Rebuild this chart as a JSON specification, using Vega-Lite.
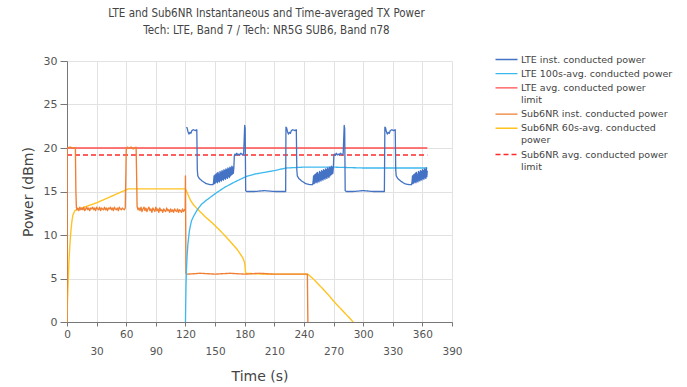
{
  "$schema": "https://vega.github.io/schema/vega-lite/v6.json",
  "width": 385,
  "height": 261,
  "autosize": {"type": "none"},
  "padding": {"left": 67, "top": 61, "right": 235, "bottom": 65},
  "background": "white",
  "config": {
    "font": "DejaVu Sans",
    "view": {"stroke": null},
    "legend": {
      "orient": "none",
      "legendX": 433,
      "legendY": -8,
      "symbolType": "M-2,0L2,0",
      "symbolSize": 121,
      "symbolStrokeWidth": 1.6,
      "labelFontSize": 9.5,
      "labelColor": "#444",
      "labelOffset": 8,
      "labelLimit": 300,
      "rowPadding": 3.2,
      "title": null
    }
  },
  "title": {
    "text": ["LTE and Sub6NR Instantaneous and Time-averaged TX Power", "Tech: LTE, Band 7 / Tech: NR5G SUB6, Band n78"],
    "font": "DejaVu Sans Condensed",
    "fontSize": 11.5,
    "fontWeight": "normal",
    "color": "#444",
    "anchor": "middle",
    "offset": 17,
    "lineHeight": 17,
    "dx": 7
  },
  "data": {"values": [
    {"series": "LTE avg. conducted power limit", "t": 0, "v": 20},
    {"series": "LTE avg. conducted power limit", "t": 365, "v": 20},
    {"series": "Sub6NR avg. conducted power limit", "t": 0, "v": 19.2},
    {"series": "Sub6NR avg. conducted power limit", "t": 365, "v": 19.2},

    {"series": "Sub6NR 60s-avg. conducted power", "t": 0, "v": 0},
    {"series": "Sub6NR 60s-avg. conducted power", "t": 0.5, "v": 2.5},
    {"series": "Sub6NR 60s-avg. conducted power", "t": 1, "v": 4},
    {"series": "Sub6NR 60s-avg. conducted power", "t": 1.5, "v": 5.5},
    {"series": "Sub6NR 60s-avg. conducted power", "t": 2, "v": 7},
    {"series": "Sub6NR 60s-avg. conducted power", "t": 3, "v": 9},
    {"series": "Sub6NR 60s-avg. conducted power", "t": 4, "v": 10.5},
    {"series": "Sub6NR 60s-avg. conducted power", "t": 5, "v": 11.6},
    {"series": "Sub6NR 60s-avg. conducted power", "t": 6, "v": 12.3},
    {"series": "Sub6NR 60s-avg. conducted power", "t": 8, "v": 12.8},
    {"series": "Sub6NR 60s-avg. conducted power", "t": 10, "v": 12.9},
    {"series": "Sub6NR 60s-avg. conducted power", "t": 20, "v": 13.3},
    {"series": "Sub6NR 60s-avg. conducted power", "t": 30, "v": 13.7},
    {"series": "Sub6NR 60s-avg. conducted power", "t": 40, "v": 14.2},
    {"series": "Sub6NR 60s-avg. conducted power", "t": 50, "v": 14.7},
    {"series": "Sub6NR 60s-avg. conducted power", "t": 58, "v": 15.1},
    {"series": "Sub6NR 60s-avg. conducted power", "t": 62, "v": 15.3},
    {"series": "Sub6NR 60s-avg. conducted power", "t": 90, "v": 15.3},
    {"series": "Sub6NR 60s-avg. conducted power", "t": 120, "v": 15.3},
    {"series": "Sub6NR 60s-avg. conducted power", "t": 122, "v": 14.8},
    {"series": "Sub6NR 60s-avg. conducted power", "t": 125, "v": 14.0},
    {"series": "Sub6NR 60s-avg. conducted power", "t": 128, "v": 13.5},
    {"series": "Sub6NR 60s-avg. conducted power", "t": 132, "v": 13.0},
    {"series": "Sub6NR 60s-avg. conducted power", "t": 140, "v": 12.1},
    {"series": "Sub6NR 60s-avg. conducted power", "t": 148, "v": 11.3},
    {"series": "Sub6NR 60s-avg. conducted power", "t": 156, "v": 10.4},
    {"series": "Sub6NR 60s-avg. conducted power", "t": 165, "v": 9.3},
    {"series": "Sub6NR 60s-avg. conducted power", "t": 172, "v": 8.4},
    {"series": "Sub6NR 60s-avg. conducted power", "t": 178, "v": 7.4},
    {"series": "Sub6NR 60s-avg. conducted power", "t": 180, "v": 6.8},
    {"series": "Sub6NR 60s-avg. conducted power", "t": 181, "v": 5.6},
    {"series": "Sub6NR 60s-avg. conducted power", "t": 200, "v": 5.5},
    {"series": "Sub6NR 60s-avg. conducted power", "t": 244, "v": 5.5},
    {"series": "Sub6NR 60s-avg. conducted power", "t": 245, "v": 5.4},
    {"series": "Sub6NR 60s-avg. conducted power", "t": 250, "v": 4.9},
    {"series": "Sub6NR 60s-avg. conducted power", "t": 255, "v": 4.3},
    {"series": "Sub6NR 60s-avg. conducted power", "t": 260, "v": 3.7},
    {"series": "Sub6NR 60s-avg. conducted power", "t": 265, "v": 3.1},
    {"series": "Sub6NR 60s-avg. conducted power", "t": 270, "v": 2.4},
    {"series": "Sub6NR 60s-avg. conducted power", "t": 275, "v": 1.8},
    {"series": "Sub6NR 60s-avg. conducted power", "t": 280, "v": 1.2},
    {"series": "Sub6NR 60s-avg. conducted power", "t": 285, "v": 0.6},
    {"series": "Sub6NR 60s-avg. conducted power", "t": 290, "v": 0},

    {"series": "Sub6NR inst. conducted power", "t": 0, "v": 0},
    {"series": "Sub6NR inst. conducted power", "t": 0.2, "v": 20},
    {"series": "Sub6NR inst. conducted power", "t": 3, "v": 20.1},
    {"series": "Sub6NR inst. conducted power", "t": 6, "v": 20},
    {"series": "Sub6NR inst. conducted power", "t": 8.5, "v": 20},
    {"series": "Sub6NR inst. conducted power", "t": 9, "v": 15},
    {"series": "Sub6NR inst. conducted power", "t": 9.5, "v": 13.2},
    {"series": "Sub6NR inst. conducted power", "t": 10, "v": 12.9},
    {"series": "Sub6NR inst. conducted power", "t": 11, "v": 13.1},
    {"series": "Sub6NR inst. conducted power", "t": 12, "v": 12.8},
    {"series": "Sub6NR inst. conducted power", "t": 13, "v": 13.2},
    {"series": "Sub6NR inst. conducted power", "t": 14, "v": 12.9},
    {"series": "Sub6NR inst. conducted power", "t": 15, "v": 13.1},
    {"series": "Sub6NR inst. conducted power", "t": 16, "v": 12.9},
    {"series": "Sub6NR inst. conducted power", "t": 17, "v": 13.2},
    {"series": "Sub6NR inst. conducted power", "t": 18, "v": 12.8},
    {"series": "Sub6NR inst. conducted power", "t": 19, "v": 13.0},
    {"series": "Sub6NR inst. conducted power", "t": 20, "v": 13.2},
    {"series": "Sub6NR inst. conducted power", "t": 21, "v": 12.9},
    {"series": "Sub6NR inst. conducted power", "t": 22, "v": 13.1},
    {"series": "Sub6NR inst. conducted power", "t": 23, "v": 12.8},
    {"series": "Sub6NR inst. conducted power", "t": 24, "v": 13.1},
    {"series": "Sub6NR inst. conducted power", "t": 25, "v": 13.0},
    {"series": "Sub6NR inst. conducted power", "t": 26, "v": 13.2},
    {"series": "Sub6NR inst. conducted power", "t": 27, "v": 12.9},
    {"series": "Sub6NR inst. conducted power", "t": 28, "v": 13.1},
    {"series": "Sub6NR inst. conducted power", "t": 29, "v": 12.8},
    {"series": "Sub6NR inst. conducted power", "t": 30, "v": 13.2},
    {"series": "Sub6NR inst. conducted power", "t": 31, "v": 13.0},
    {"series": "Sub6NR inst. conducted power", "t": 32, "v": 12.9},
    {"series": "Sub6NR inst. conducted power", "t": 33, "v": 13.2},
    {"series": "Sub6NR inst. conducted power", "t": 34, "v": 12.8},
    {"series": "Sub6NR inst. conducted power", "t": 35, "v": 13.1},
    {"series": "Sub6NR inst. conducted power", "t": 36, "v": 13.0},
    {"series": "Sub6NR inst. conducted power", "t": 37, "v": 12.9},
    {"series": "Sub6NR inst. conducted power", "t": 38, "v": 13.2},
    {"series": "Sub6NR inst. conducted power", "t": 39, "v": 12.9},
    {"series": "Sub6NR inst. conducted power", "t": 40, "v": 13.1},
    {"series": "Sub6NR inst. conducted power", "t": 41, "v": 12.8},
    {"series": "Sub6NR inst. conducted power", "t": 42, "v": 13.1},
    {"series": "Sub6NR inst. conducted power", "t": 43, "v": 13.0},
    {"series": "Sub6NR inst. conducted power", "t": 44, "v": 13.2},
    {"series": "Sub6NR inst. conducted power", "t": 45, "v": 12.9},
    {"series": "Sub6NR inst. conducted power", "t": 46, "v": 13.1},
    {"series": "Sub6NR inst. conducted power", "t": 47, "v": 12.8},
    {"series": "Sub6NR inst. conducted power", "t": 48, "v": 13.2},
    {"series": "Sub6NR inst. conducted power", "t": 49, "v": 13.0},
    {"series": "Sub6NR inst. conducted power", "t": 50, "v": 12.9},
    {"series": "Sub6NR inst. conducted power", "t": 51, "v": 13.1},
    {"series": "Sub6NR inst. conducted power", "t": 52, "v": 12.8},
    {"series": "Sub6NR inst. conducted power", "t": 53, "v": 13.2},
    {"series": "Sub6NR inst. conducted power", "t": 54, "v": 13.0},
    {"series": "Sub6NR inst. conducted power", "t": 55, "v": 12.9},
    {"series": "Sub6NR inst. conducted power", "t": 56, "v": 13.1},
    {"series": "Sub6NR inst. conducted power", "t": 57, "v": 13.0},
    {"series": "Sub6NR inst. conducted power", "t": 58, "v": 12.9},
    {"series": "Sub6NR inst. conducted power", "t": 59, "v": 13.1},
    {"series": "Sub6NR inst. conducted power", "t": 59.5, "v": 16},
    {"series": "Sub6NR inst. conducted power", "t": 60, "v": 19.8},
    {"series": "Sub6NR inst. conducted power", "t": 61, "v": 20.1},
    {"series": "Sub6NR inst. conducted power", "t": 63, "v": 20},
    {"series": "Sub6NR inst. conducted power", "t": 65, "v": 20.1},
    {"series": "Sub6NR inst. conducted power", "t": 67, "v": 19.9},
    {"series": "Sub6NR inst. conducted power", "t": 69, "v": 20},
    {"series": "Sub6NR inst. conducted power", "t": 70, "v": 20.1},
    {"series": "Sub6NR inst. conducted power", "t": 70.5, "v": 17},
    {"series": "Sub6NR inst. conducted power", "t": 71, "v": 13.3},
    {"series": "Sub6NR inst. conducted power", "t": 72, "v": 12.9},
    {"series": "Sub6NR inst. conducted power", "t": 73, "v": 13.1},
    {"series": "Sub6NR inst. conducted power", "t": 74, "v": 12.8},
    {"series": "Sub6NR inst. conducted power", "t": 75, "v": 13.2},
    {"series": "Sub6NR inst. conducted power", "t": 76, "v": 12.7},
    {"series": "Sub6NR inst. conducted power", "t": 77, "v": 13.0},
    {"series": "Sub6NR inst. conducted power", "t": 78, "v": 13.2},
    {"series": "Sub6NR inst. conducted power", "t": 79, "v": 12.8},
    {"series": "Sub6NR inst. conducted power", "t": 80, "v": 13.1},
    {"series": "Sub6NR inst. conducted power", "t": 81, "v": 12.7},
    {"series": "Sub6NR inst. conducted power", "t": 82, "v": 13.0},
    {"series": "Sub6NR inst. conducted power", "t": 83, "v": 13.2},
    {"series": "Sub6NR inst. conducted power", "t": 84, "v": 12.8},
    {"series": "Sub6NR inst. conducted power", "t": 85, "v": 13.0},
    {"series": "Sub6NR inst. conducted power", "t": 86, "v": 12.6},
    {"series": "Sub6NR inst. conducted power", "t": 87, "v": 13.1},
    {"series": "Sub6NR inst. conducted power", "t": 88, "v": 12.9},
    {"series": "Sub6NR inst. conducted power", "t": 89, "v": 12.7},
    {"series": "Sub6NR inst. conducted power", "t": 90, "v": 13.2},
    {"series": "Sub6NR inst. conducted power", "t": 91, "v": 12.8},
    {"series": "Sub6NR inst. conducted power", "t": 92, "v": 13.0},
    {"series": "Sub6NR inst. conducted power", "t": 93, "v": 12.6},
    {"series": "Sub6NR inst. conducted power", "t": 94, "v": 13.1},
    {"series": "Sub6NR inst. conducted power", "t": 95, "v": 12.8},
    {"series": "Sub6NR inst. conducted power", "t": 96, "v": 12.9},
    {"series": "Sub6NR inst. conducted power", "t": 97, "v": 12.6},
    {"series": "Sub6NR inst. conducted power", "t": 98, "v": 13.0},
    {"series": "Sub6NR inst. conducted power", "t": 99, "v": 12.8},
    {"series": "Sub6NR inst. conducted power", "t": 100, "v": 12.7},
    {"series": "Sub6NR inst. conducted power", "t": 101, "v": 13.1},
    {"series": "Sub6NR inst. conducted power", "t": 102, "v": 12.8},
    {"series": "Sub6NR inst. conducted power", "t": 103, "v": 12.9},
    {"series": "Sub6NR inst. conducted power", "t": 104, "v": 12.6},
    {"series": "Sub6NR inst. conducted power", "t": 105, "v": 13.0},
    {"series": "Sub6NR inst. conducted power", "t": 106, "v": 12.7},
    {"series": "Sub6NR inst. conducted power", "t": 107, "v": 12.9},
    {"series": "Sub6NR inst. conducted power", "t": 108, "v": 12.6},
    {"series": "Sub6NR inst. conducted power", "t": 109, "v": 13.0},
    {"series": "Sub6NR inst. conducted power", "t": 110, "v": 12.8},
    {"series": "Sub6NR inst. conducted power", "t": 111, "v": 12.7},
    {"series": "Sub6NR inst. conducted power", "t": 112, "v": 13.0},
    {"series": "Sub6NR inst. conducted power", "t": 113, "v": 12.6},
    {"series": "Sub6NR inst. conducted power", "t": 114, "v": 12.9},
    {"series": "Sub6NR inst. conducted power", "t": 115, "v": 12.8},
    {"series": "Sub6NR inst. conducted power", "t": 116, "v": 12.6},
    {"series": "Sub6NR inst. conducted power", "t": 117, "v": 13.0},
    {"series": "Sub6NR inst. conducted power", "t": 118, "v": 12.7},
    {"series": "Sub6NR inst. conducted power", "t": 119, "v": 12.9},
    {"series": "Sub6NR inst. conducted power", "t": 119.7, "v": 12.8},
    {"series": "Sub6NR inst. conducted power", "t": 120, "v": 16.8},
    {"series": "Sub6NR inst. conducted power", "t": 120.5, "v": 5.6},
    {"series": "Sub6NR inst. conducted power", "t": 122, "v": 5.5},
    {"series": "Sub6NR inst. conducted power", "t": 135, "v": 5.6},
    {"series": "Sub6NR inst. conducted power", "t": 150, "v": 5.5},
    {"series": "Sub6NR inst. conducted power", "t": 165, "v": 5.6},
    {"series": "Sub6NR inst. conducted power", "t": 180, "v": 5.5},
    {"series": "Sub6NR inst. conducted power", "t": 195, "v": 5.6},
    {"series": "Sub6NR inst. conducted power", "t": 210, "v": 5.5},
    {"series": "Sub6NR inst. conducted power", "t": 225, "v": 5.5},
    {"series": "Sub6NR inst. conducted power", "t": 243.5, "v": 5.5},
    {"series": "Sub6NR inst. conducted power", "t": 244, "v": 0},

    {"series": "LTE 100s-avg. conducted power", "t": 120, "v": 0},
    {"series": "LTE 100s-avg. conducted power", "t": 120.5, "v": 4},
    {"series": "LTE 100s-avg. conducted power", "t": 121, "v": 6},
    {"series": "LTE 100s-avg. conducted power", "t": 121.6, "v": 7.5},
    {"series": "LTE 100s-avg. conducted power", "t": 122.5, "v": 9},
    {"series": "LTE 100s-avg. conducted power", "t": 124, "v": 10.5},
    {"series": "LTE 100s-avg. conducted power", "t": 126, "v": 11.6},
    {"series": "LTE 100s-avg. conducted power", "t": 128, "v": 12.1},
    {"series": "LTE 100s-avg. conducted power", "t": 132, "v": 12.9},
    {"series": "LTE 100s-avg. conducted power", "t": 136, "v": 13.5},
    {"series": "LTE 100s-avg. conducted power", "t": 140, "v": 13.9},
    {"series": "LTE 100s-avg. conducted power", "t": 146, "v": 14.4},
    {"series": "LTE 100s-avg. conducted power", "t": 152, "v": 14.9},
    {"series": "LTE 100s-avg. conducted power", "t": 160, "v": 15.5},
    {"series": "LTE 100s-avg. conducted power", "t": 170, "v": 16.1},
    {"series": "LTE 100s-avg. conducted power", "t": 181, "v": 16.7},
    {"series": "LTE 100s-avg. conducted power", "t": 190, "v": 17.0},
    {"series": "LTE 100s-avg. conducted power", "t": 200, "v": 17.2},
    {"series": "LTE 100s-avg. conducted power", "t": 210, "v": 17.4},
    {"series": "LTE 100s-avg. conducted power", "t": 222, "v": 17.7},
    {"series": "LTE 100s-avg. conducted power", "t": 240, "v": 17.8},
    {"series": "LTE 100s-avg. conducted power", "t": 270, "v": 17.8},
    {"series": "LTE 100s-avg. conducted power", "t": 300, "v": 17.7},
    {"series": "LTE 100s-avg. conducted power", "t": 330, "v": 17.7},
    {"series": "LTE 100s-avg. conducted power", "t": 365, "v": 17.7},

    {"series": "LTE inst. conducted power", "t": 121, "v": 22.4},
    {"series": "LTE inst. conducted power", "t": 121.7, "v": 22.3},
    {"series": "LTE inst. conducted power", "t": 122.5, "v": 21.9},
    {"series": "LTE inst. conducted power", "t": 123.5, "v": 21.6},
    {"series": "LTE inst. conducted power", "t": 124.5, "v": 21.8},
    {"series": "LTE inst. conducted power", "t": 125.5, "v": 21.7},
    {"series": "LTE inst. conducted power", "t": 126.5, "v": 22.0},
    {"series": "LTE inst. conducted power", "t": 128, "v": 22.1},
    {"series": "LTE inst. conducted power", "t": 130, "v": 22.0},
    {"series": "LTE inst. conducted power", "t": 131.5, "v": 22.1},
    {"series": "LTE inst. conducted power", "t": 132, "v": 17.5},
    {"series": "LTE inst. conducted power", "t": 132.5, "v": 16.8},
    {"series": "LTE inst. conducted power", "t": 134, "v": 16.5},
    {"series": "LTE inst. conducted power", "t": 137, "v": 16.2},
    {"series": "LTE inst. conducted power", "t": 141, "v": 15.9},
    {"series": "LTE inst. conducted power", "t": 145, "v": 15.8},
    {"series": "LTE inst. conducted power", "t": 148, "v": 15.8},
    {"series": "LTE inst. conducted power", "t": 148.5, "v": 16.1},
    {"series": "LTE inst. conducted power", "t": 149, "v": 16.8},
    {"series": "LTE inst. conducted power", "t": 149.5, "v": 15.9},
    {"series": "LTE inst. conducted power", "t": 150, "v": 16.9},
    {"series": "LTE inst. conducted power", "t": 150.5, "v": 16.0},
    {"series": "LTE inst. conducted power", "t": 151, "v": 17.0},
    {"series": "LTE inst. conducted power", "t": 151.5, "v": 16.1},
    {"series": "LTE inst. conducted power", "t": 152, "v": 17.1},
    {"series": "LTE inst. conducted power", "t": 152.5, "v": 16.0},
    {"series": "LTE inst. conducted power", "t": 153, "v": 17.2},
    {"series": "LTE inst. conducted power", "t": 153.5, "v": 16.2},
    {"series": "LTE inst. conducted power", "t": 154, "v": 17.0},
    {"series": "LTE inst. conducted power", "t": 154.5, "v": 16.1},
    {"series": "LTE inst. conducted power", "t": 155, "v": 17.3},
    {"series": "LTE inst. conducted power", "t": 155.5, "v": 16.3},
    {"series": "LTE inst. conducted power", "t": 156, "v": 17.2},
    {"series": "LTE inst. conducted power", "t": 156.5, "v": 16.2},
    {"series": "LTE inst. conducted power", "t": 157, "v": 17.4},
    {"series": "LTE inst. conducted power", "t": 157.5, "v": 16.4},
    {"series": "LTE inst. conducted power", "t": 158, "v": 17.3},
    {"series": "LTE inst. conducted power", "t": 158.5, "v": 16.3},
    {"series": "LTE inst. conducted power", "t": 159, "v": 17.5},
    {"series": "LTE inst. conducted power", "t": 159.5, "v": 16.5},
    {"series": "LTE inst. conducted power", "t": 160, "v": 17.4},
    {"series": "LTE inst. conducted power", "t": 160.5, "v": 16.4},
    {"series": "LTE inst. conducted power", "t": 161, "v": 17.6},
    {"series": "LTE inst. conducted power", "t": 161.5, "v": 16.6},
    {"series": "LTE inst. conducted power", "t": 162, "v": 17.5},
    {"series": "LTE inst. conducted power", "t": 162.5, "v": 16.5},
    {"series": "LTE inst. conducted power", "t": 163, "v": 17.7},
    {"series": "LTE inst. conducted power", "t": 163.5, "v": 16.7},
    {"series": "LTE inst. conducted power", "t": 164, "v": 17.6},
    {"series": "LTE inst. conducted power", "t": 164.5, "v": 16.6},
    {"series": "LTE inst. conducted power", "t": 165, "v": 17.8},
    {"series": "LTE inst. conducted power", "t": 165.5, "v": 16.8},
    {"series": "LTE inst. conducted power", "t": 166, "v": 17.7},
    {"series": "LTE inst. conducted power", "t": 166.5, "v": 16.9},
    {"series": "LTE inst. conducted power", "t": 167, "v": 17.9},
    {"series": "LTE inst. conducted power", "t": 167.5, "v": 17.0},
    {"series": "LTE inst. conducted power", "t": 168, "v": 17.8},
    {"series": "LTE inst. conducted power", "t": 168.5, "v": 17.1},
    {"series": "LTE inst. conducted power", "t": 169, "v": 17.7},
    {"series": "LTE inst. conducted power", "t": 169.5, "v": 19.1},
    {"series": "LTE inst. conducted power", "t": 170, "v": 19.3},
    {"series": "LTE inst. conducted power", "t": 171, "v": 19.2},
    {"series": "LTE inst. conducted power", "t": 172, "v": 19.4},
    {"series": "LTE inst. conducted power", "t": 173, "v": 19.2},
    {"series": "LTE inst. conducted power", "t": 174, "v": 19.3},
    {"series": "LTE inst. conducted power", "t": 175, "v": 19.2},
    {"series": "LTE inst. conducted power", "t": 176, "v": 19.4},
    {"series": "LTE inst. conducted power", "t": 177, "v": 19.3},
    {"series": "LTE inst. conducted power", "t": 178, "v": 19.2},
    {"series": "LTE inst. conducted power", "t": 179, "v": 19.4},
    {"series": "LTE inst. conducted power", "t": 180, "v": 22.6},
    {"series": "LTE inst. conducted power", "t": 180.5, "v": 22.2},
    {"series": "LTE inst. conducted power", "t": 181, "v": 15.1},
    {"series": "LTE inst. conducted power", "t": 182, "v": 15.0},
    {"series": "LTE inst. conducted power", "t": 190, "v": 15.0},
    {"series": "LTE inst. conducted power", "t": 200, "v": 15.1},
    {"series": "LTE inst. conducted power", "t": 210, "v": 15.0},
    {"series": "LTE inst. conducted power", "t": 221.5, "v": 15.0},
    {"series": "LTE inst. conducted power", "t": 221.8, "v": 22.4},
    {"series": "LTE inst. conducted power", "t": 222.5, "v": 22.3},
    {"series": "LTE inst. conducted power", "t": 223.3, "v": 21.9},
    {"series": "LTE inst. conducted power", "t": 224.3, "v": 21.6},
    {"series": "LTE inst. conducted power", "t": 225.3, "v": 21.8},
    {"series": "LTE inst. conducted power", "t": 226.3, "v": 21.7},
    {"series": "LTE inst. conducted power", "t": 227.3, "v": 22.0},
    {"series": "LTE inst. conducted power", "t": 228.8, "v": 22.1},
    {"series": "LTE inst. conducted power", "t": 230.8, "v": 22.0},
    {"series": "LTE inst. conducted power", "t": 232.3, "v": 22.1},
    {"series": "LTE inst. conducted power", "t": 232.8, "v": 17.5},
    {"series": "LTE inst. conducted power", "t": 233.3, "v": 16.8},
    {"series": "LTE inst. conducted power", "t": 234.8, "v": 16.5},
    {"series": "LTE inst. conducted power", "t": 237.8, "v": 16.2},
    {"series": "LTE inst. conducted power", "t": 241.8, "v": 15.9},
    {"series": "LTE inst. conducted power", "t": 245.8, "v": 15.8},
    {"series": "LTE inst. conducted power", "t": 248.8, "v": 15.8},
    {"series": "LTE inst. conducted power", "t": 249.3, "v": 16.1},
    {"series": "LTE inst. conducted power", "t": 249.8, "v": 16.8},
    {"series": "LTE inst. conducted power", "t": 250.3, "v": 15.9},
    {"series": "LTE inst. conducted power", "t": 250.8, "v": 16.9},
    {"series": "LTE inst. conducted power", "t": 251.3, "v": 16.0},
    {"series": "LTE inst. conducted power", "t": 251.8, "v": 17.0},
    {"series": "LTE inst. conducted power", "t": 252.3, "v": 16.1},
    {"series": "LTE inst. conducted power", "t": 252.8, "v": 17.1},
    {"series": "LTE inst. conducted power", "t": 253.3, "v": 16.0},
    {"series": "LTE inst. conducted power", "t": 253.8, "v": 17.2},
    {"series": "LTE inst. conducted power", "t": 254.3, "v": 16.2},
    {"series": "LTE inst. conducted power", "t": 254.8, "v": 17.0},
    {"series": "LTE inst. conducted power", "t": 255.3, "v": 16.1},
    {"series": "LTE inst. conducted power", "t": 255.8, "v": 17.3},
    {"series": "LTE inst. conducted power", "t": 256.3, "v": 16.3},
    {"series": "LTE inst. conducted power", "t": 256.8, "v": 17.2},
    {"series": "LTE inst. conducted power", "t": 257.3, "v": 16.2},
    {"series": "LTE inst. conducted power", "t": 257.8, "v": 17.4},
    {"series": "LTE inst. conducted power", "t": 258.3, "v": 16.4},
    {"series": "LTE inst. conducted power", "t": 258.8, "v": 17.3},
    {"series": "LTE inst. conducted power", "t": 259.3, "v": 16.3},
    {"series": "LTE inst. conducted power", "t": 259.8, "v": 17.5},
    {"series": "LTE inst. conducted power", "t": 260.3, "v": 16.5},
    {"series": "LTE inst. conducted power", "t": 260.8, "v": 17.4},
    {"series": "LTE inst. conducted power", "t": 261.3, "v": 16.4},
    {"series": "LTE inst. conducted power", "t": 261.8, "v": 17.6},
    {"series": "LTE inst. conducted power", "t": 262.3, "v": 16.6},
    {"series": "LTE inst. conducted power", "t": 262.8, "v": 17.5},
    {"series": "LTE inst. conducted power", "t": 263.3, "v": 16.5},
    {"series": "LTE inst. conducted power", "t": 263.8, "v": 17.7},
    {"series": "LTE inst. conducted power", "t": 264.3, "v": 16.7},
    {"series": "LTE inst. conducted power", "t": 264.8, "v": 17.6},
    {"series": "LTE inst. conducted power", "t": 265.3, "v": 16.6},
    {"series": "LTE inst. conducted power", "t": 265.8, "v": 17.8},
    {"series": "LTE inst. conducted power", "t": 266.3, "v": 16.8},
    {"series": "LTE inst. conducted power", "t": 266.8, "v": 17.7},
    {"series": "LTE inst. conducted power", "t": 267.3, "v": 16.9},
    {"series": "LTE inst. conducted power", "t": 267.8, "v": 17.9},
    {"series": "LTE inst. conducted power", "t": 268.3, "v": 17.0},
    {"series": "LTE inst. conducted power", "t": 268.8, "v": 17.8},
    {"series": "LTE inst. conducted power", "t": 269.3, "v": 17.1},
    {"series": "LTE inst. conducted power", "t": 269.8, "v": 17.7},
    {"series": "LTE inst. conducted power", "t": 270.3, "v": 19.1},
    {"series": "LTE inst. conducted power", "t": 270.8, "v": 19.3},
    {"series": "LTE inst. conducted power", "t": 271.8, "v": 19.2},
    {"series": "LTE inst. conducted power", "t": 272.8, "v": 19.4},
    {"series": "LTE inst. conducted power", "t": 273.8, "v": 19.2},
    {"series": "LTE inst. conducted power", "t": 274.8, "v": 19.3},
    {"series": "LTE inst. conducted power", "t": 275.8, "v": 19.2},
    {"series": "LTE inst. conducted power", "t": 276.8, "v": 19.4},
    {"series": "LTE inst. conducted power", "t": 277.8, "v": 19.3},
    {"series": "LTE inst. conducted power", "t": 278.8, "v": 19.2},
    {"series": "LTE inst. conducted power", "t": 279.8, "v": 19.4},
    {"series": "LTE inst. conducted power", "t": 280.8, "v": 22.6},
    {"series": "LTE inst. conducted power", "t": 281.3, "v": 22.2},
    {"series": "LTE inst. conducted power", "t": 281.8, "v": 15.1},
    {"series": "LTE inst. conducted power", "t": 282.8, "v": 15.0},
    {"series": "LTE inst. conducted power", "t": 290, "v": 15.0},
    {"series": "LTE inst. conducted power", "t": 300, "v": 15.1},
    {"series": "LTE inst. conducted power", "t": 310, "v": 15.0},
    {"series": "LTE inst. conducted power", "t": 321.5, "v": 15.0},
    {"series": "LTE inst. conducted power", "t": 322, "v": 22.4},
    {"series": "LTE inst. conducted power", "t": 322.7, "v": 22.3},
    {"series": "LTE inst. conducted power", "t": 323.5, "v": 21.9},
    {"series": "LTE inst. conducted power", "t": 324.5, "v": 21.6},
    {"series": "LTE inst. conducted power", "t": 325.5, "v": 21.8},
    {"series": "LTE inst. conducted power", "t": 326.5, "v": 21.7},
    {"series": "LTE inst. conducted power", "t": 327.5, "v": 22.0},
    {"series": "LTE inst. conducted power", "t": 329, "v": 22.1},
    {"series": "LTE inst. conducted power", "t": 331, "v": 22.0},
    {"series": "LTE inst. conducted power", "t": 332.5, "v": 22.1},
    {"series": "LTE inst. conducted power", "t": 333, "v": 17.5},
    {"series": "LTE inst. conducted power", "t": 333.5, "v": 16.8},
    {"series": "LTE inst. conducted power", "t": 335, "v": 16.5},
    {"series": "LTE inst. conducted power", "t": 338, "v": 16.2},
    {"series": "LTE inst. conducted power", "t": 342, "v": 15.9},
    {"series": "LTE inst. conducted power", "t": 346, "v": 15.8},
    {"series": "LTE inst. conducted power", "t": 349, "v": 15.8},
    {"series": "LTE inst. conducted power", "t": 349.5, "v": 16.1},
    {"series": "LTE inst. conducted power", "t": 350, "v": 16.8},
    {"series": "LTE inst. conducted power", "t": 350.5, "v": 15.9},
    {"series": "LTE inst. conducted power", "t": 351, "v": 16.9},
    {"series": "LTE inst. conducted power", "t": 351.5, "v": 16.0},
    {"series": "LTE inst. conducted power", "t": 352, "v": 17.0},
    {"series": "LTE inst. conducted power", "t": 352.5, "v": 16.1},
    {"series": "LTE inst. conducted power", "t": 353, "v": 17.1},
    {"series": "LTE inst. conducted power", "t": 353.5, "v": 16.0},
    {"series": "LTE inst. conducted power", "t": 354, "v": 17.2},
    {"series": "LTE inst. conducted power", "t": 354.5, "v": 16.2},
    {"series": "LTE inst. conducted power", "t": 355, "v": 17.0},
    {"series": "LTE inst. conducted power", "t": 355.5, "v": 16.1},
    {"series": "LTE inst. conducted power", "t": 356, "v": 17.3},
    {"series": "LTE inst. conducted power", "t": 356.5, "v": 16.3},
    {"series": "LTE inst. conducted power", "t": 357, "v": 17.2},
    {"series": "LTE inst. conducted power", "t": 357.5, "v": 16.2},
    {"series": "LTE inst. conducted power", "t": 358, "v": 17.4},
    {"series": "LTE inst. conducted power", "t": 358.5, "v": 16.4},
    {"series": "LTE inst. conducted power", "t": 359, "v": 17.3},
    {"series": "LTE inst. conducted power", "t": 359.5, "v": 16.3},
    {"series": "LTE inst. conducted power", "t": 360, "v": 17.5},
    {"series": "LTE inst. conducted power", "t": 360.5, "v": 16.5},
    {"series": "LTE inst. conducted power", "t": 361, "v": 17.4},
    {"series": "LTE inst. conducted power", "t": 361.5, "v": 16.4},
    {"series": "LTE inst. conducted power", "t": 362, "v": 17.6},
    {"series": "LTE inst. conducted power", "t": 362.5, "v": 16.6},
    {"series": "LTE inst. conducted power", "t": 363, "v": 17.5},
    {"series": "LTE inst. conducted power", "t": 363.5, "v": 16.5},
    {"series": "LTE inst. conducted power", "t": 364, "v": 17.7},
    {"series": "LTE inst. conducted power", "t": 364.5, "v": 16.7},
    {"series": "LTE inst. conducted power", "t": 365, "v": 17.4}
  ]},
  "mark": {"type": "line", "clip": true, "strokeJoin": "round"},
  "encoding": {
    "x": {
      "field": "t", "type": "quantitative",
      "scale": {"domain": [0, 390], "nice": false, "zero": false},
      "axis": {
        "values": [0, 30, 60, 90, 120, 150, 180, 210, 240, 270, 300, 330, 360, 390],
        "title": "Time (s)",
        "labelExpr": "datum.value % 60 == 0 ? datum.label : ['', datum.label]",
        "labelOverlap": false,
        "labelFlush": false,
        "labelLineHeight": 17,
        "gridColor": "#e2e2e2",
        "domainColor": "#777",
        "tickColor": "#777",
        "tickSize": 4,
        "labelFontSize": 10.5,
        "labelColor": "#555",
        "labelPadding": 3,
        "titleFontSize": 14,
        "titleFontWeight": "normal",
        "titleColor": "#444",
        "titlePadding": 13
      }
    },
    "y": {
      "field": "v", "type": "quantitative",
      "scale": {"domain": [0, 30], "nice": false},
      "axis": {
        "values": [0, 5, 10, 15, 20, 25, 30],
        "title": "Power (dBm)",
        "gridColor": "#e2e2e2",
        "domainColor": "#777",
        "tickColor": "#777",
        "tickSize": 7,
        "labelFontSize": 11,
        "labelColor": "#555",
        "labelPadding": 3,
        "titleFontSize": 14,
        "titleFontWeight": "normal",
        "titleColor": "#444",
        "titlePadding": 8
      }
    },
    "color": {
      "field": "series", "type": "nominal",
      "scale": {
        "domain": ["LTE inst. conducted power", "LTE 100s-avg. conducted power", "LTE avg. conducted power limit", "Sub6NR inst. conducted power", "Sub6NR 60s-avg. conducted power", "Sub6NR avg. conducted power limit"],
        "range": ["#4472C4", "#3CB8EE", "#FF4D4D", "#F07F33", "#FFC21F", "#FF2A2A"]
      },
      "legend": {
        "title": null,
        "labelExpr": "datum.label == 'LTE avg. conducted power limit' ? ['LTE avg. conducted power', 'limit'] : datum.label == 'Sub6NR 60s-avg. conducted power' ? ['Sub6NR 60s-avg. conducted', 'power'] : datum.label == 'Sub6NR avg. conducted power limit' ? ['Sub6NR avg. conducted power', 'limit'] : datum.label",
        "encode": {"labels": {"update": {"lineHeight": {"value": 12}}}}
      }
    },
    "strokeDash": {
      "field": "series", "type": "nominal",
      "scale": {
        "domain": ["LTE inst. conducted power", "LTE 100s-avg. conducted power", "LTE avg. conducted power limit", "Sub6NR inst. conducted power", "Sub6NR 60s-avg. conducted power", "Sub6NR avg. conducted power limit"],
        "range": [[1, 0], [1, 0], [1, 0], [1, 0], [1, 0], [5, 3]]
      },
      "legend": {
        "title": null,
        "labelExpr": "datum.label == 'LTE avg. conducted power limit' ? ['LTE avg. conducted power', 'limit'] : datum.label == 'Sub6NR 60s-avg. conducted power' ? ['Sub6NR 60s-avg. conducted', 'power'] : datum.label == 'Sub6NR avg. conducted power limit' ? ['Sub6NR avg. conducted power', 'limit'] : datum.label",
        "encode": {"labels": {"update": {"lineHeight": {"value": 12}}}}
      }
    },
    "strokeWidth": {
      "field": "series", "type": "nominal",
      "scale": {
        "domain": ["LTE inst. conducted power", "LTE 100s-avg. conducted power", "LTE avg. conducted power limit", "Sub6NR inst. conducted power", "Sub6NR 60s-avg. conducted power", "Sub6NR avg. conducted power limit"],
        "range": [1.3, 1.4, 2, 1.5, 1.4, 1.2]
      },
      "legend": null
    }
  }
}
